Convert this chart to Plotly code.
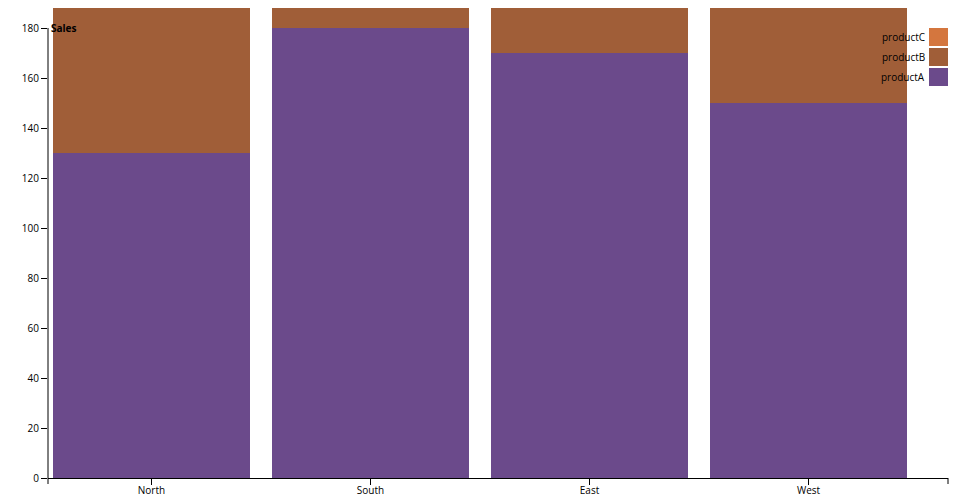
import plotly.graph_objects as go

regions = ["North", "South", "East", "West"]
productA = [130, 180, 170, 150]
productB = [80, 40, 50, 60]
productC = [60, 50, 40, 70]
series_names = ["productA", "productB", "productC"]
series_colors = ["#6b4a8b", "#a05e38", "#d4763e"]
y_ticks = [0, 20, 40, 60, 80, 100, 120, 140, 160, 180]

# page has an 8px body margin; figure is sized so it fills the 960x500 window
OFF = 8
W, H = 960 - OFF, 500 - OFF
L, R, T, B = 48 - OFF, 12, 8 - OFF, 22
PW, PH = W - L - R, H - T - B
PLOT_LEFT, PLOT_BOTTOM = 48, 478


def px_x(x):
    return (x - PLOT_LEFT) / PW


def px_y(y):
    return (PLOT_BOTTOM - y) / PH


fig = go.Figure()
for name, vals, col in zip(series_names, [productA, productB, productC], series_colors):
    fig.add_trace(go.Bar(x=regions, y=vals, name=name, marker=dict(color=col, line=dict(width=0)),
                         width=0.9, showlegend=False))

font = dict(family="Open Sans, Noto Sans, sans-serif", size=10, color="#000")

fig.update_layout(
    width=W, height=H, barmode="stack",
    margin=dict(l=L, r=R, t=T, b=B, autoexpand=False),
    plot_bgcolor="white", paper_bgcolor="white",
    font=font,
    xaxis=dict(range=[-0.4726, 3.637], showline=True, linecolor="#000", linewidth=1,
               ticks="outside", ticklen=6, tickcolor="#000", tickwidth=1,
               ticklabelstandoff=-3,
               showgrid=False, zeroline=False, tickfont=font),
    yaxis=dict(range=[0, 188], showline=False, ticks="outside", ticklen=6, tickcolor="#000",
               tickwidth=1, tickvals=y_ticks, showgrid=False, zeroline=False, tickfont=font),
)

# y-axis domain line (d3 style, ends at top tick)
fig.add_shape(type="line", xref="paper", yref="y", x0=0, x1=0, y0=0, y1=max(y_ticks),
              line=dict(color="#000", width=1))
# x-axis outer end ticks
for xp in [0, 1]:
    fig.add_shape(type="line", xref="paper", yref="paper", x0=xp, x1=xp, y0=0, y1=-6 / PH,
                  line=dict(color="#000", width=1))

fig.add_annotation(text="<b>Sales</b>", xref="paper", yref="y", x=0, y=max(y_ticks),
                   xanchor="left", yanchor="middle", xshift=1, showarrow=False,
                   font=dict(family="Open Sans, Noto Sans, sans-serif", size=10, color="#000"))

# legend (top right, reversed order)
for i, (name, col) in enumerate(reversed(list(zip(series_names, series_colors)))):
    top = 28 + 20 * i
    fig.add_shape(type="rect", xref="paper", yref="paper",
                  x0=px_x(929), x1=px_x(948), y0=px_y(top + 18), y1=px_y(top),
                  fillcolor=col, line=dict(width=0))
    fig.add_annotation(text=name, xref="paper", yref="paper", x=px_x(924), y=px_y(top + 9),
                       xanchor="right", yanchor="middle", xshift=3, showarrow=False, font=font)

fig.write_html("out.html")
